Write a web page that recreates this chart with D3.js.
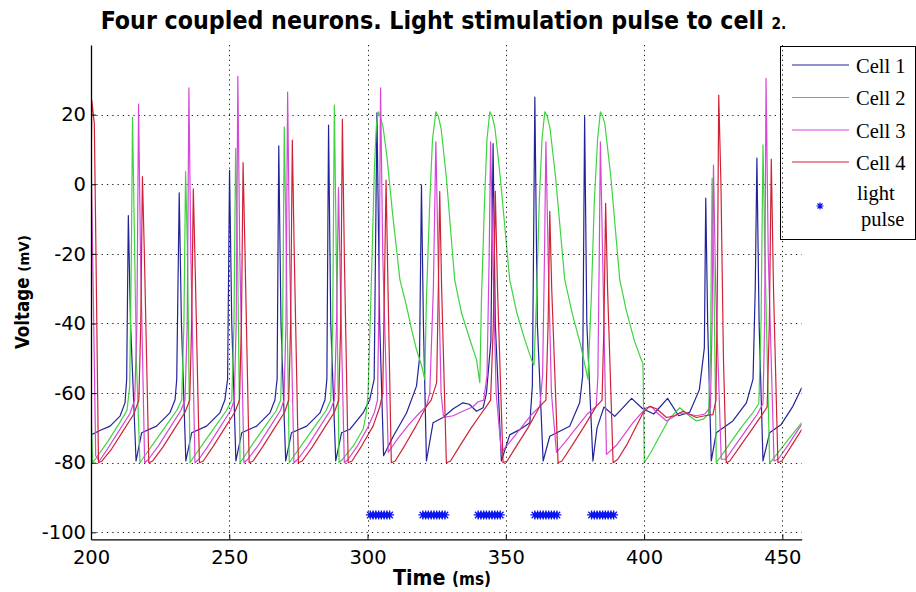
<!DOCTYPE html>
<html>
<head>
<meta charset="utf-8">
<script src="https://cdn.jsdelivr.net/npm/d3@7"></script>
<style>
  body { margin: 0; background: #fff; }
  svg { display: block; }
</style>
</head>
<body>
<svg id="chart" width="916" height="592"></svg>
<script>
// Membrane voltage (mV) against time (ms) for the four coupled cells.
const cellNames = ["Cell 1", "Cell 2", "Cell 3", "Cell 4"];

const cell1 = [
  [200, -72], [203, -70.8], [206.9, -69.5], [210.5, -66.6], [212.3, -62.8], [212.9, -56], [213.5, -9], [214.3, -40], [216.3, -79.5], [218.3, -71.4],
  [223.7, -69.5], [228.5, -65.7], [230.4, -61.9], [231.0, -56], [231.9, -2.5], [232.7, -40], [234.3, -79.5], [236.4, -71.4],
  [241.8, -69.5], [246.6, -65.7], [248.4, -62], [249.4, -56], [250.1, 4], [250.9, -40], [252.4, -79.5], [254.5, -71.4],
  [259.9, -69.5], [264.7, -65.7], [266.5, -62], [267.3, -56], [267.9, 11], [268.7, -40], [270.4, -79.5], [272.5, -71.4],
  [278, -69.5], [282.8, -65.7], [284.6, -62], [285.3, -56], [285.9, 17], [286.7, -40], [288.5, -79.5], [290.6, -71.4],
  [293.6, -70.4], [298.4, -65.7], [300.8, -61.9], [302.4, -56], [303.4, 20.5], [304.4, -40], [305.8, -78],
  [309.3, -72.4], [314.1, -65.7], [317.7, -58], [318.8, -50], [319.5, -0.2], [320.2, -40], [321.3, -79.5], [323.7, -68.5],
  [327.3, -67], [331, -64.5], [334.5, -62.8], [336.8, -63.2], [339.4, -65.2], [341.8, -64.2], [343, -60], [344.6, -45], [345.4, 11.7], [346.2, -40], [348.4, -79.5],
  [351.4, -72], [355, -70.5], [358.7, -68.5], [359.6, -58], [360.5, 25], [361.4, -40], [363.5, -79.5],
  [365.9, -72.4], [373.1, -69.5], [376.7, -62.8], [377.8, -55], [378.5, 19.4], [379.3, -40], [381.5, -79.5],
  [383, -70], [385.5, -64], [389.4, -66.7], [395.5, -61.5], [399.5, -64.5], [403.5, -66], [408.5, -61.5], [412.5, -66.5], [416.5, -65.5],
  [420, -59], [421.8, -47], [422.3, -4], [423.0, -40], [424.3, -79.5], [426.1, -71.4], [432.1, -68], [437, -62.8], [439.4, -56], [440.2, -30],
  [440.8, 7.5], [441.6, -40], [443, -79.5], [445.4, -71.4], [449.6, -69], [453.8, -63.8], [457, -58.5]
];

const cell2 = [
  [200, -65], [200.6, -80], [202, -78.5], [206, -74], [210, -69], [213, -65], [214, -58], [214.6, -20], [215, 19.2], [215.6, -10], [216.4, -50], [217.7, -80],
  [219, -78.5], [223, -74], [227, -69.5], [231, -65], [232.8, -62], [233.6, -40], [234.2, 3.6], [234.9, -20], [235.8, -80],
  [237, -78.5], [241, -74], [245, -69.5], [249, -65], [250.9, -62], [251.7, -40], [252.3, 10.3], [253, -20], [253.9, -80],
  [255.2, -78.5], [259, -74], [263, -69.5], [267, -65], [268.6, -62], [269.3, -40], [269.9, 16.5], [270.6, -20], [271.7, -80],
  [273, -78.5], [277, -74], [281, -69.5], [285, -65], [286.7, -62], [287.4, -40], [288, 22.7], [288.7, -20], [289.7, -80],
  [291, -79], [295, -75], [298.4, -70.4], [299.5, -66], [300.2, -60], [301.4, -27.4], [302.5, 5], [303.2, 17], [303.9, 20.8], [304.6, 19.5],
  [305.6, 16.5], [307, 8], [309, -8], [311.7, -27.4], [314.1, -35], [316, -42], [317.7, -47.5], [319.5, -52], [320.7, -56.1],
  [321.3, -33], [322.5, -5], [323.5, 13], [324.7, 20.8], [325.6, 19.5], [326.6, 16], [328.5, 2], [331.5, -27.4], [334, -37], [337, -44.6], [339.4, -50.4], [340.6, -57],
  [341.2, -33], [342.3, -5], [343.2, 13], [344.2, 20.8], [345.1, 19.5], [346.1, 16], [348, 2], [351.4, -27.4], [354, -37], [357, -45], [359.3, -50.4], [360.2, -52],
  [361.1, -33], [362.1, -5], [363.1, 13], [364.1, 20.8], [365, 19.5], [366, 16], [368, 2], [371.3, -27.4], [374, -37], [377, -46], [379.7, -56],
  [380.9, -33], [382, -5], [383.2, 13], [384.2, 20.8], [385, 19.5], [385.8, 17.5], [388, 2], [391.2, -27.4], [393.5, -36], [396.5, -45], [399, -50.4], [399.6, -51.5],
  [400.1, -80], [402.5, -77], [405.6, -72.4], [409, -67.5], [412.9, -64.2], [415.5, -66], [418.9, -68], [421.5, -67.5], [423.3, -66], [424, -50], [424.6, 1.7], [425.3, -30], [426.1, -80],
  [427.5, -78.5], [431, -74.5], [435, -70], [439, -66], [441.5, -63], [442.3, -40], [443, 11.3], [443.7, -20], [445.4, -80],
  [446.6, -79], [450, -75.5], [454, -71.5], [457, -68.5]
];

const cell3 = [
  [200, 10], [200.8, -30], [201.7, -78], [203, -79.5], [206, -76], [210, -71], [214, -66], [215.8, -62], [216.6, -40], [217.2, 23], [217.9, -20], [219.4, -80],
  [220.8, -79], [224.5, -75], [228.5, -70], [232.5, -65], [234, -62], [234.8, -40], [235.4, 27.7], [236.1, -20], [237.6, -80],
  [239, -79], [242.5, -75], [246.5, -70], [250.5, -65], [251.8, -62], [252.5, -40], [253.1, 31], [253.8, -20], [255.3, -80],
  [256.7, -79], [260.5, -75], [264.5, -70], [268.5, -65], [269.8, -62], [270.5, -40], [271.1, 26.5], [271.8, -20], [273.4, -80],
  [274.8, -79], [278.5, -75], [282.5, -70], [286.5, -65], [288, -62], [288.8, -40], [289.5, -1], [290.2, -30], [291.6, -80],
  [293, -79], [296.5, -75], [300, -70], [302.5, -65.5], [303.6, -62], [304.2, -30], [304.7, 27.7], [305.5, -20], [307.5, -77],
  [311, -73], [315, -69], [319, -65.5], [321.3, -63.8], [322.5, -60], [323.8, -30], [324.7, 12.2], [325.5, -20], [326.6, -60], [327.5, -67],
  [331, -66.5], [335, -65], [338, -64], [340, -62.5], [342, -62], [343.2, -55], [344, -20], [344.5, 12.2], [345.3, -20], [346.5, -60], [348.4, -77],
  [351.5, -74], [355.5, -70], [359.5, -66], [362.3, -63.8], [363.3, -55], [364, -20], [364.5, 12.2], [365.3, -20], [366.5, -60], [368.3, -77],
  [371.5, -74], [375.5, -70], [379.5, -66], [382.7, -63.8], [383.3, -55], [383.8, -20], [384.2, 12.2], [385, -20], [386.4, -77.6],
  [390, -75], [396, -68.5], [400.8, -64.2], [402.6, -63.8], [404.5, -65.5], [408.1, -68], [412.9, -65.7], [416, -66], [418.9, -66.5], [422, -66], [424, -64],
  [424.6, -40], [425.1, 5.5], [425.9, -30], [427.9, -79], [429.5, -79], [433, -75], [437, -70.5], [441, -66], [443, -63], [443.6, -40], [444.1, 30.4], [444.9, -20], [447, -79.5],
  [448.5, -79], [452, -75], [457, -69]
];

const cell4 = [
  [200, 0], [200.3, 24], [201.2, 17.5], [201.8, -20], [202.7, -80], [204, -79.5], [207.5, -76], [211.5, -71], [215.5, -66], [217.3, -62], [218, -40], [218.6, 2.2], [219.3, -20], [220.9, -80],
  [222.3, -79.5], [226, -75.5], [230, -70.5], [234, -65.5], [235.7, -62], [236.4, -40], [237, -1.3], [237.7, -25], [239.2, -80],
  [240.6, -79.5], [244, -75.5], [248, -70.5], [252, -65.5], [253.7, -62], [254.4, -40], [255, 6.2], [255.7, -20], [257.2, -80],
  [258.6, -79.5], [262, -75.5], [266, -70.5], [270, -65.5], [271.5, -62], [272.2, -40], [272.8, 12.7], [273.5, -20], [275, -80],
  [276.4, -79.5], [280, -75.5], [284, -70.5], [288, -65.5], [289.6, -62], [290.3, -40], [290.9, 18.7], [291.6, -20], [293, -80],
  [294.4, -79.5], [298, -75], [302, -69.5], [304.4, -64], [305.5, -60], [306.1, -30], [306.7, 1.2], [307.4, -30], [308.6, -80],
  [310, -79.5], [313.5, -75], [317.5, -69.5], [321.3, -63.8], [323, -62], [325, -57], [325.6, -30], [326.1, -2.1], [326.8, -30], [328.5, -80],
  [330, -79.5], [333.5, -75], [337.5, -70], [341, -66], [343, -63.8], [344.5, -62], [345.5, -40], [346.2, -2], [347, -30], [349, -80],
  [350.5, -79.5], [354, -75], [358, -70], [362.3, -63.8], [364.5, -62], [365.3, -40], [365.9, -7.8], [366.6, -30], [368.9, -80],
  [370.3, -79.5], [374, -75], [378, -70], [382.7, -63.8], [384.8, -62], [385.5, -40], [386.1, -5.5], [386.8, -30], [388.8, -80],
  [390.5, -79], [394, -74.5], [399.6, -65.7], [402, -63.8], [404.5, -64.5], [408.1, -67], [411, -66.5], [414.1, -65.2], [418.9, -67], [422, -66.5], [424.9, -66.2],
  [426, -62], [426.5, -30], [427, 25.6], [427.8, 0], [428.7, -50], [429.7, -80],
  [431, -79.5], [434.5, -75.5], [438.5, -71], [442, -67], [444.5, -64], [445.3, -40], [446, 7.2], [446.8, -30], [448.4, -80],
  [449.8, -79.5], [453, -75.5], [457, -70.5]
];

// Light stimulation pulses delivered to cell 2 (ms), plotted at a fixed level.
const pulseTimes = [
  301, 302, 303, 304, 305, 306, 307, 308,
  320, 321, 322, 323, 324, 325, 326, 327, 328,
  340, 341, 342, 343, 344, 345, 346, 347, 348,
  360.5, 361.5, 362.5, 363.5, 364.5, 365.5, 366.5, 367.5, 368.5,
  381, 382, 383, 384, 385, 386, 387, 388, 389
];
const pulseLevel = -95;

const xTicks = [200, 250, 300, 350, 400, 450];
const yTicks = [-100, -80, -60, -40, -20, 0, 20];

// ---- layout ----
const colors = ["#22229a", "#3fd33f", "#d846d8", "#cf2236"];
const series = [cell1, cell2, cell3, cell4];
const plot = { left: 91, right: 801.7, top: 45, bottom: 539.3 };

const svg = d3.select("#chart");
const x = d3.scaleLinear().domain([200, 457]).range([plot.left, plot.right]);
const y = d3.scaleLinear().domain([-102, 40]).range([plot.bottom, plot.top]);

svg.append("defs").append("clipPath").attr("id", "plotClip")
  .append("rect")
  .attr("x", plot.left).attr("y", plot.top)
  .attr("width", plot.right - plot.left).attr("height", plot.bottom - plot.top);

// horizontal dotted grid
svg.append("g").selectAll("line")
  .data(yTicks)
  .join("line")
  .attr("x1", plot.left).attr("x2", plot.right)
  .attr("y1", d => Math.round(y(d)) + 0.5).attr("y2", d => Math.round(y(d)) + 0.5)
  .attr("stroke", "#222").attr("stroke-width", 1)
  .attr("stroke-dasharray", "1.3,4");

// voltage traces
const line = d3.line().x(d => x(d[0])).y(d => y(d[1]));
svg.append("g").attr("clip-path", "url(#plotClip)")
  .selectAll("path")
  .data(series)
  .join("path")
  .attr("d", line)
  .attr("fill", "none")
  .attr("stroke", (d, i) => colors[i])
  .attr("stroke-width", 1.2)
  .attr("stroke-linejoin", "round");

// asterisk marker path
function asterisk(r) {
  const p = d3.path();
  const k = r * 0.72;
  p.moveTo(-r, 0); p.lineTo(r, 0);
  p.moveTo(0, -r); p.lineTo(0, r);
  p.moveTo(-k, -k); p.lineTo(k, k);
  p.moveTo(-k, k); p.lineTo(k, -k);
  return p.toString();
}

svg.append("g").selectAll("path")
  .data(pulseTimes)
  .join("path")
  .attr("transform", d => `translate(${x(d)},${y(pulseLevel)})`)
  .attr("d", asterisk(4.5))
  .attr("fill", "none")
  .attr("stroke", "#0a14f0")
  .attr("stroke-width", 1.3);

// legend
const legendFont = "'Liberation Serif', 'DejaVu Serif', serif";
const lg = svg.append("g");
lg.append("rect")
  .attr("x", 780.5).attr("y", 46.5).attr("width", 135).attr("height", 193)
  .attr("fill", "#fff").attr("stroke", "#000").attr("stroke-width", 1);
const rowY = [65, 97.5, 130, 162];
cellNames.forEach((name, i) => {
  lg.append("line")
    .attr("x1", 792).attr("x2", 849)
    .attr("y1", rowY[i]).attr("y2", rowY[i])
    .attr("stroke", colors[i]).attr("stroke-width", 1.2);
  lg.append("text")
    .attr("x", 856).attr("y", rowY[i] + 7.5)
    .attr("font-family", legendFont)
    .attr("font-size", 20.5).attr("fill", "#000")
    .text(name);
});
lg.append("path")
  .attr("transform", "translate(820,206)")
  .attr("d", asterisk(3.5))
  .attr("fill", "none").attr("stroke", "#0a14f0").attr("stroke-width", 1.2);
lg.append("text").attr("x", 857).attr("y", 200)
  .attr("font-family", legendFont)
  .attr("font-size", 20.5).text("light");
lg.append("text").attr("x", 861).attr("y", 225.5)
  .attr("font-family", legendFont)
  .attr("font-size", 20.5).text("pulse");

// vertical dotted grid
svg.append("g").selectAll("line")
  .data(xTicks.filter(d => d > 200))
  .join("line")
  .attr("x1", d => Math.round(x(d)) + 0.5).attr("x2", d => Math.round(x(d)) + 0.5)
  .attr("y1", plot.top).attr("y2", plot.bottom)
  .attr("stroke", "#222").attr("stroke-width", 1)
  .attr("stroke-dasharray", "1.3,3.6");

// axes with inward ticks; plain hyphen for negatives
const tickFont = "'DejaVu Sans', sans-serif";
const fmt = d => String(d);
const xAxis = svg.append("g")
  .attr("transform", `translate(0,${plot.bottom})`)
  .call(d3.axisBottom(x).tickValues(xTicks).tickFormat(fmt)
    .tickSizeInner(-5).tickSizeOuter(0).tickPadding(0));
xAxis.select(".domain").attr("stroke", "#000").attr("stroke-width", 1.3);
xAxis.selectAll(".tick line").attr("stroke", "#000");
xAxis.selectAll(".tick text")
  .attr("font-family", tickFont).attr("font-size", 19.5).attr("fill", "#000")
  .attr("dy", "0").attr("y", 24.5);

const yAxis = svg.append("g")
  .attr("transform", `translate(${plot.left},0)`)
  .call(d3.axisLeft(y).tickValues(yTicks).tickFormat(fmt)
    .tickSizeInner(-5).tickSizeOuter(0).tickPadding(5));
yAxis.select(".domain").attr("stroke", "#000").attr("stroke-width", 1.3);
yAxis.selectAll(".tick text")
  .attr("font-family", tickFont).attr("font-size", 19.5).attr("fill", "#000");
yAxis.selectAll(".tick line").attr("stroke", "#000");

// titles: sized so each spans its measured width
const boldFont = "'DejaVu Sans Condensed', 'DejaVu Sans', sans-serif";
function fitText(sel, base, smallRatio, width) {
  sel.attr("font-size", base);
  sel.select(".small").attr("font-size", base * smallRatio);
  const w = sel.node().getComputedTextLength();
  const s = base * width / w;
  sel.attr("font-size", s);
  sel.select(".small").attr("font-size", s * smallRatio);
}

const title = svg.append("text")
  .attr("x", 443.5).attr("y", 28.5)
  .attr("text-anchor", "middle")
  .attr("font-family", boldFont).attr("font-weight", "bold").attr("fill", "#000");
title.append("tspan").text("Four coupled neurons. Light stimulation pulse to cell ");
title.append("tspan").attr("class", "small").text("2.");
fitText(title, 25, 0.62, 686);

const xLabel = svg.append("text")
  .attr("x", 442).attr("y", 585)
  .attr("text-anchor", "middle")
  .attr("font-family", boldFont).attr("font-weight", "bold").attr("fill", "#000");
xLabel.append("tspan").text("Time ");
xLabel.append("tspan").attr("class", "small").text("(ms)");
fitText(xLabel, 18, 0.8, 98);

const yLabel = svg.append("text")
  .attr("transform", `translate(29,${(plot.top + plot.bottom) / 2}) rotate(-90)`)
  .attr("text-anchor", "middle")
  .attr("font-family", boldFont).attr("font-weight", "bold").attr("fill", "#000");
yLabel.append("tspan").text("Voltage ");
yLabel.append("tspan").attr("class", "small").text("(mV)");
fitText(yLabel, 18, 0.8, 114);
</script>
</body>
</html>
